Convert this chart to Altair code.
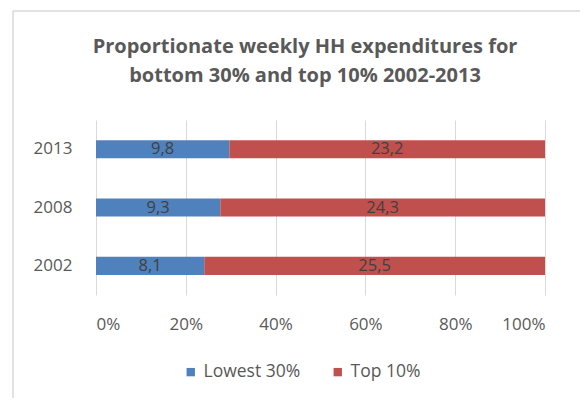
import altair as alt
import pandas as pd

years = ["2013", "2008", "2002"]
lowest_30 = [9.8, 9.3, 8.1]
top_10 = [23.2, 24.3, 25.5]
series = ["Lowest 30%", "Top 10%"]
colors = ["#4F81BD", "#C0504D"]
x_ticks = [0, 0.2, 0.4, 0.6, 0.8, 1.0]
title_lines = ["Proportionate weekly HH expenditures for", "bottom 30% and top 10% 2002-2013"]

rows = []
for i, y in enumerate(years):
    rows.append({"year": y, "series": series[0], "value": lowest_30[i], "order": 0})
    rows.append({"year": y, "series": series[1], "value": top_10[i], "order": 1})
df = pd.DataFrame(rows)

FONT = "Open Sans"
GRAY = "#595959"

base = alt.Chart(df).transform_stack(
    stack="value", groupby=["year"], as_=["v0", "v1"], offset="normalize",
    sort=[alt.SortField("order", order="ascending")]
).transform_calculate(
    mid="(datum.v0 + datum.v1) / 2",
    label="replace(format(datum.value, '.1f'), '.', ',')"
)

yenc = alt.Y("year:N", sort=years, title=None,
             scale=alt.Scale(paddingInner=0.69, paddingOuter=0.345),
             axis=alt.Axis(domain=False, ticks=False, labelPadding=24,
                           labelFontSize=17, labelColor=GRAY, labelFont=FONT))

bars = base.mark_bar().encode(
    x=alt.X("v0:Q", title=None, scale=alt.Scale(domain=[0, 1]),
            axis=alt.Axis(values=x_ticks, format="%", grid=True, gridColor="#D9D9D9",
                          domain=False, ticks=False, labelPadding=21,
                          labelFontSize=17, labelColor=GRAY, labelFont=FONT)),
    x2="v1:Q",
    y=yenc,
    color=alt.Color("series:N", scale=alt.Scale(domain=series, range=colors),
                    legend=alt.Legend(title=None, orient="none", direction="horizontal",
                                      legendX=86, legendY=243, symbolType="square",
                                      symbolSize=70, symbolStrokeWidth=0,
                                      labelFontSize=17.5, labelColor=GRAY, labelFont=FONT,
                                      columnPadding=28, labelOffset=4)),
)

texts = base.mark_text(fontSize=16.5, font=FONT, color="#404040").encode(
    x="mid:Q",
    y=alt.Y("year:N", sort=years),
    text="label:N",
)

title_df = pd.DataFrame({"t": title_lines, "line": [0, 1]})
title1 = alt.Chart(title_df).transform_filter("datum.line == 0").mark_text(
    fontSize=20, font=FONT, fontWeight="bold", color=GRAY, baseline="middle", align="center"
).encode(text="t:N", x=alt.value(209), y=alt.value(-73))
title2 = alt.Chart(title_df).transform_filter("datum.line == 1").mark_text(
    fontSize=20, font=FONT, fontWeight="bold", color=GRAY, baseline="middle", align="center"
).encode(text="t:N", x=alt.value(209), y=alt.value(-44))

border_df = pd.DataFrame({"k": [0]})
border_top = alt.Chart(border_df).mark_rule(color="#D9D9D9", strokeWidth=1.5).encode(
    x=alt.value(-83), x2=alt.value(500), y=alt.value(-109))
border_left = alt.Chart(border_df).mark_rule(color="#D9D9D9", strokeWidth=1.5).encode(
    x=alt.value(-83), y=alt.value(-109), y2=alt.value(300))

chart = alt.layer(bars, texts, title1, title2, border_top, border_left).properties(
    width=449, height=175,
    autosize=alt.AutoSizeParams(type="none"),
    padding={"left": 88, "top": 112, "right": 35, "bottom": 103},
).configure_view(stroke=None)

chart.save("out.html", embed_options={"renderer": "svg", "actions": False})
